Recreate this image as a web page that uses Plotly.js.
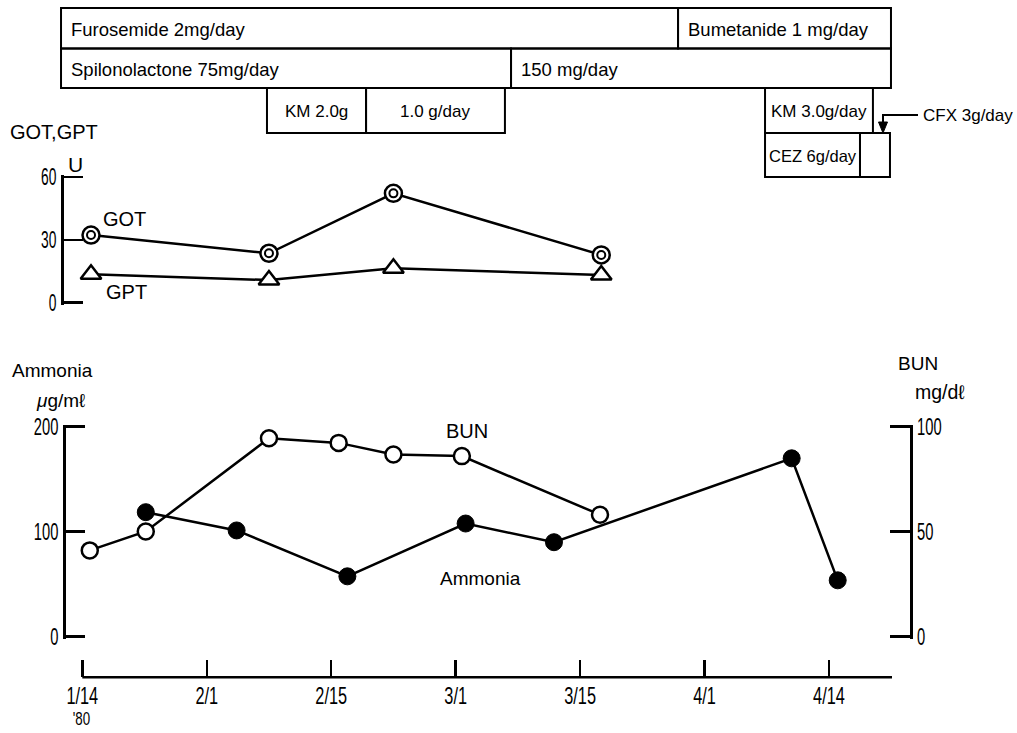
<!DOCTYPE html>
<html><head><meta charset="utf-8">
<script src="https://cdn.plot.ly/plotly-3.0.1.min.js"></script>
<style>html,body{margin:0;padding:0;background:#fff;} #chart{width:1017px;height:733px;}</style>
</head><body><div id="chart"></div>
<script>
// x positions are on the chart's (evenly spaced) date-tick scale:
// 0 = 1/14, 1 = 2/1, 2 = 2/15, 3 = 3/1, 4 = 3/15, 5 = 4/1, 6 = 4/14 ('80)
const tickLabels = ['1/14', '2/1', '2/15', '3/1', '3/15', '4/1', '4/14'];
const tickPos = [0, 1, 2, 3, 4, 5, 6];

const enzymeDays = [0.07, 1.50, 2.50, 4.17];
const gotValues = [32.3, 23.6, 52.2, 22.8];
const gptValues = [13.6, 10.8, 16.4, 13.2];

const bunDays = [0.06, 0.51, 1.50, 2.06, 2.50, 3.05, 4.16];
const bunValues = [41.0, 50.0, 94.4, 92.2, 86.7, 85.9, 58.0];

const ammoniaDays = [0.51, 1.24, 2.13, 3.08, 3.79, 5.70, 6.07];
const ammoniaValues = [118.4, 101.0, 57.3, 107.6, 89.8, 169.7, 53.5];

// treatment periods (same x scale), row 0..3 from top
const drugNames = ['Furosemide 2mg/day', 'Bumetanide 1 mg/day', 'Spilonolactone 75mg/day', '150 mg/day',
                   'KM 2.0g', '1.0 g/day', 'KM 3.0g/day', 'CEZ 6g/day', ''];
const drugStart = [-0.171, 4.787, -0.171, 3.445, 1.484, 2.280, 5.486, 5.486, 6.249];
const drugEnd   = [4.787, 6.498, 3.445, 6.498, 2.280, 3.396, 6.353, 6.249, 6.490];
const drugRow   = [0, 0, 1, 1, 2, 2, 2, 3, 3];
const cfxLabel = 'CFX 3g/day';

// ---------- layout helpers ----------
const W = 1017, H = 733;
const X0 = 82.3, DX = 124.45;          // pixel of tick 0, pixels per tick step
const fx = px => px / W, fy = py => 1 - py / H;
const pxToX = px => (px - X0) / DX;
const TEXT = '"Liberation Sans", Arial, sans-serif';
const rowTop = [8, 48.5, 88, 133];
const rowBot = [48.5, 88, 133, 177];
const boxFont = [18.5, 18.5, 17, 16.5];

// axis placement: value v0 at pixel p0 (bottom), v1 at pixel p1 (top), padded by pad px
function span(v0, p0, v1, p1, pad) {
  const k = (p0 - p1) / (v1 - v0);
  return {domain: [fy(p0 + pad), fy(p1 - pad)], range: [v0 - pad / k, v1 + pad / k]};
}
const ammSpan = span(0, 636.5, 200, 426.5, 2);
const bunSpan = span(0, 636.5, 100, 426.5, 2);
const enzSpan = span(0, 302.7, 60, 177, 2);

const lineStyle = {color: '#000', width: 2.5};
const traces = [
  {x: enzymeDays, y: gotValues, xaxis: 'x', yaxis: 'y3', mode: 'lines+markers', name: 'GOT',
   line: lineStyle, cliponaxis: false,
   marker: {symbol: 'circle', size: 17, color: '#fff', line: {color: '#000', width: 2.5}}},
  {x: enzymeDays, y: gotValues, xaxis: 'x', yaxis: 'y3', mode: 'markers', name: 'GOT inner',
   cliponaxis: false, marker: {symbol: 'circle-open', size: 8, color: '#000', line: {color: '#000', width: 2}}},
  {x: enzymeDays, y: gptValues, xaxis: 'x', yaxis: 'y3', mode: 'lines+markers', name: 'GPT',
   line: lineStyle, cliponaxis: false,
   marker: {symbol: 'triangle-up', size: 18, color: '#fff', line: {color: '#000', width: 2.5}}},
  {x: bunDays, y: bunValues, xaxis: 'x', yaxis: 'y2', mode: 'lines+markers', name: 'BUN',
   line: lineStyle, cliponaxis: false,
   marker: {symbol: 'circle', size: 16, color: '#fff', line: {color: '#000', width: 2.5}}},
  {x: ammoniaDays, y: ammoniaValues, xaxis: 'x', yaxis: 'y', mode: 'lines+markers', name: 'Ammonia',
   line: lineStyle, cliponaxis: false,
   marker: {symbol: 'circle', size: 17, color: '#000', line: {color: '#000', width: 1}}}
];

const yCommon = {
  anchor: 'free', showline: true, linewidth: 2.5, linecolor: '#000',
  ticks: 'inside', ticklen: 19, tickwidth: 2.5, tickcolor: '#000',
  showgrid: false, zeroline: false, automargin: false, fixedrange: true,
  tickfont: {family: TEXT, size: 23, color: '#000'}
};

const shapes = [];
const annotations = [];
// x-axis baseline
shapes.push({type: 'line', xref: 'x', yref: 'paper', x0: 0, x1: pxToX(892), y0: fy(677.3), y1: fy(677.3),
             line: {color: '#000', width: 2.5}});
// treatment boxes
drugNames.forEach((name, i) => {
  const r = drugRow[i];
  shapes.push({type: 'rect', xref: 'x', yref: 'paper', x0: drugStart[i], x1: drugEnd[i],
               y0: fy(rowBot[r]), y1: fy(rowTop[r]), line: {color: '#000', width: 2}, fillcolor: 'rgba(0,0,0,0)'});
  if (!name) return;
  const left = r < 2;
  annotations.push({xref: 'x', yref: 'paper', text: name, showarrow: false,
    x: left ? drugStart[i] + 8 / DX : (drugStart[i] + drugEnd[i]) / 2,
    xanchor: left ? 'left' : 'center', y: fy((rowTop[r] + rowBot[r]) / 2 + 1), yanchor: 'middle',
    font: {family: TEXT, size: boxFont[r], color: '#000'}});
});
// CFX callout arrow
shapes.push({type: 'path', xref: 'paper', yref: 'paper',
  path: `M ${fx(918)} ${fy(115)} L ${fx(883)} ${fy(115)} L ${fx(883)} ${fy(126)}`,
  line: {color: '#000', width: 2}});
shapes.push({type: 'path', xref: 'paper', yref: 'paper',
  path: `M ${fx(878.5)} ${fy(122)} L ${fx(887.5)} ${fy(122)} L ${fx(883)} ${fy(133)} Z`,
  line: {color: '#000', width: 1}, fillcolor: '#000'});

function label(text, px, py, size) {
  annotations.push({xref: 'paper', yref: 'paper', x: fx(px), y: fy(py), text, showarrow: false,
    xanchor: 'left', yanchor: 'middle', font: {family: TEXT, size, color: '#000'}});
}
label(cfxLabel, 921, 115, 17);
label('GOT,GPT', 8, 132, 20);
label('U', 66, 164, 21);
label('GOT', 101, 219, 20);
label('GPT', 104, 292, 20);
label('Ammonia', 10, 370, 19);
label('<i>μ</i>g/mℓ', 34, 400, 19);
label('BUN', 444, 431, 20);
label('Ammonia', 438, 578, 19);
label('BUN', 896, 363, 19);
label('mg/dℓ', 913, 392, 19.5);
label("'80", 67, 718, 19);

const layout = {
  width: W, height: H, margin: {l: 0, r: 0, t: 0, b: 0},
  paper_bgcolor: '#fff', plot_bgcolor: 'rgba(0,0,0,0)', showlegend: false,
  font: {family: TEXT, color: '#000'},
  xaxis: {domain: [0, 1], range: [pxToX(0), pxToX(W)], anchor: 'free', position: fy(677.3),
          showline: false, showgrid: false, zeroline: false, automargin: false, fixedrange: true,
          ticks: 'inside', ticklen: 17, tickwidth: 2.5, tickcolor: '#000', ticklabelstandoff: 2,
          tickmode: 'array', tickvals: tickPos, ticktext: tickLabels,
          tickfont: {family: TEXT, size: 24, color: '#000'}},
  yaxis: Object.assign({}, yCommon, ammSpan, {position: fx(64), side: 'left', tickvals: [0, 100, 200]}),
  yaxis2: Object.assign({}, yCommon, {range: bunSpan.range, overlaying: 'y', position: fx(911),
          side: 'right', tickvals: [0, 50, 100], ticklen: 20}),
  yaxis3: Object.assign({}, yCommon, enzSpan, {position: fx(62), side: 'left', tickvals: [0, 30, 60],
          tickfont: {family: TEXT, size: 23, color: '#000'}}),
  shapes, annotations
};

// the original typeface has tall, condensed figures: squeeze the numeric labels horizontally
function condense(el, factor) {
  const w = el.getComputedTextLength();
  if (w > 0) { el.setAttribute('textLength', (w * factor).toFixed(2)); el.setAttribute('lengthAdjust', 'spacingAndGlyphs'); }
}
Plotly.newPlot('chart', traces, layout, {staticPlot: true, displayModeBar: false}).then(gd => {
  gd.querySelectorAll('.xtick text').forEach(t => condense(t, 0.68));
  gd.querySelectorAll('.ytick text, .y2tick text').forEach(t => condense(t, 0.64));
  gd.querySelectorAll('.y3tick text').forEach(t => condense(t, 0.6));
  gd.querySelectorAll('.annotation-text').forEach(t => { if (t.textContent === "'80") condense(t, 0.7); });
});
</script></body></html>
